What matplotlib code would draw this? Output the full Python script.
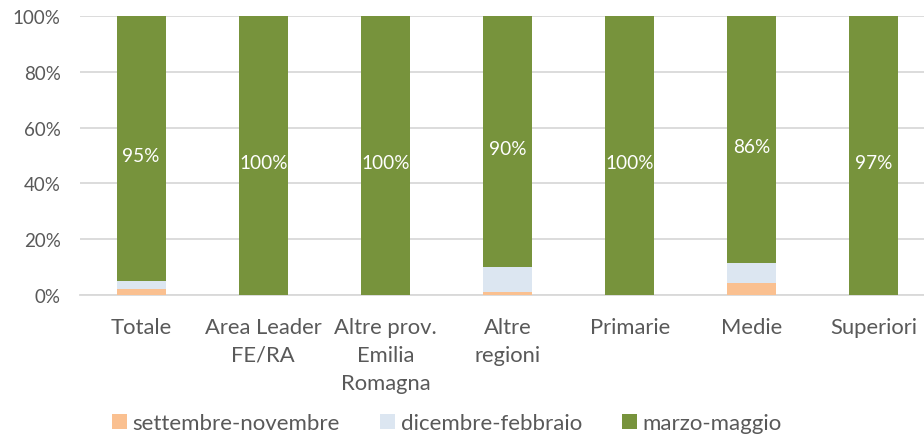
import matplotlib
matplotlib.use("Agg")
import matplotlib.pyplot as plt
import numpy as np

categories = ["Totale", "Area Leader\nFE/RA", "Altre prov.\nEmilia\nRomagna", "Altre\nregioni",
              "Primarie", "Medie", "Superiori"]
series_names = ["settembre-novembre", "dicembre-febbraio", "marzo-maggio"]
sett_nov = [2, 0, 0, 1, 0, 4, 0]
dic_feb = [3, 0, 0, 9, 0, 7, 0]
mar_mag = [95, 100, 100, 90, 100, 86, 97]
colors = ["#FAC090", "#DCE6F1", "#77933C"]

plt.rcParams['font.family'] = ['Lato', 'DejaVu Sans']

fig = plt.figure(figsize=(9.24, 4.35), dpi=100)
ax = fig.add_axes([80/924, 139/435, 855/924, 279/435])

x = np.arange(len(categories))
data = np.array([sett_nov, dic_feb, mar_mag], dtype=float)
totals = data.sum(axis=0)
shares = data / totals * 100

bottom = np.zeros(len(categories))
for i, (name, col) in enumerate(zip(series_names, colors)):
    ax.bar(x, shares[i], 0.4, bottom=bottom, color=col, label=name, zorder=3)
    if i == 2:
        for xi, b, h, v in zip(x, bottom, shares[i], data[i]):
            ax.annotate(f"{int(v)}%", (xi, b + h / 2), xytext=(0, -5),
                        textcoords='offset points', ha='center', va='center',
                        color='white', fontsize=13.7, zorder=4)
    bottom += shares[i]

ax.set_xlim(-0.5, 6.5)
ax.set_ylim(0, 100)
ax.set_yticks(np.arange(0, 101, 20))
ax.set_yticklabels([f"{v}%" for v in range(0, 101, 20)])
ax.yaxis.grid(True, color="#D9D9D9", linewidth=1.3, zorder=0)
ax.set_xticks(x)
ax.set_xticklabels(categories, linespacing=1.48)
ax.tick_params(axis='both', length=0, colors="#595959")
ax.tick_params(axis='y', labelsize=13.5, pad=14)
ax.tick_params(axis='x', labelsize=15.8, pad=16)
for s in ["top", "right", "left"]:
    ax.spines[s].set_visible(False)
ax.spines["bottom"].set_color("#D9D9D9")
ax.spines["bottom"].set_linewidth(1.3)

leg = fig.legend(loc='lower left', bbox_to_anchor=(112/924, 1/435), ncol=3, frameon=False,
                 fontsize=16, handlelength=0.68, handleheight=0.68, handletextpad=0.25,
                 columnspacing=1.8, labelcolor="#595959", borderpad=0, borderaxespad=0)

fig.savefig("out.png", dpi=100)
